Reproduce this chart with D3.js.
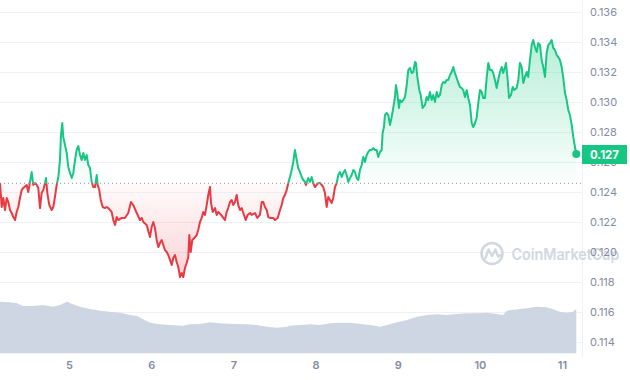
<!DOCTYPE html>
<html>
<head>
<meta charset="utf-8">
<script src="https://cdn.jsdelivr.net/npm/d3@7"></script>
<style>
html,body{margin:0;padding:0;background:#fff;}
svg{display:block;font-family:Inter,"Noto Sans",sans-serif;}
</style>
</head>
<body>
<svg id="chart" width="630" height="380"></svg>
<script>
// ---- data ----
const priceDays = [4.160,4.181,4.200,4.221,4.242,4.261,4.282,4.302,4.322,4.343,4.363,4.383,4.403,4.424,4.444,4.485,4.504,4.525,4.546,4.565,4.586,4.607,4.626,4.647,4.667,4.687,4.708,4.720,4.736,4.760,4.789,4.809,4.829,4.850,4.870,4.890,4.902,4.918,4.930,4.951,4.972,4.991,5.012,5.033,5.052,5.073,5.093,5.113,5.134,5.154,5.174,5.194,5.215,5.235,5.255,5.276,5.295,5.316,5.337,5.349,5.368,5.386,5.410,5.438,5.459,5.478,5.519,5.539,5.560,5.580,5.600,5.641,5.681,5.721,5.754,5.782,5.824,5.864,5.885,5.904,5.945,5.965,
5.986,6.006,6.026,6.046,6.067,6.087,6.107,6.128,6.147,6.168,6.189,6.208,6.229,6.250,6.269,6.290,6.310,6.330,6.351,6.371,6.391,6.411,6.432,6.452,6.464,6.481,6.500,6.525,6.554,6.573,6.594,6.615,6.634,6.655,6.676,6.695,6.716,6.728,6.749,6.777,6.797,6.817,6.850,6.878,6.898,6.919,6.938,6.959,6.980,6.999,7.020,7.041,7.060,7.081,7.102,7.121,7.150,7.174,7.203,7.223,7.263,7.291,7.324,7.345,7.364,7.385,7.406,7.425,7.446,7.486,7.507,7.540,7.568,7.588,7.608,7.628,7.649,7.669,7.689,7.710,7.729,7.750,7.771,7.790,7.811,7.832,7.851,7.872,7.884,7.912,7.933,7.953,7.973,7.993,
8.014,8.034,8.054,8.075,8.094,8.115,8.136,8.155,8.176,8.197,8.216,8.237,8.258,8.277,8.298,8.319,8.338,8.359,8.379,8.399,8.420,8.440,8.460,8.480,8.501,8.521,8.541,8.562,8.581,8.602,8.623,8.642,8.663,8.684,8.703,8.724,8.744,8.764,8.785,8.805,8.817,8.833,8.845,8.866,8.886,8.906,8.927,8.946,8.967,8.979,8.995,9.016,9.028,9.049,9.068,9.089,9.110,9.129,9.150,9.170,9.190,9.211,9.223,9.239,9.263,9.280,9.304,9.332,9.353,9.372,9.393,9.414,9.433,
9.454,9.475,9.494,9.515,9.536,9.555,9.576,9.596,9.616,9.637,9.657,9.677,9.697,9.718,9.738,9.758,9.779,9.798,9.819,9.840,9.859,9.880,9.901,9.920,9.941,9.961,9.981,10.002,10.022,10.042,10.063,10.083,10.103,10.123,10.144,10.163,10.184,10.205,10.224,10.245,10.266,10.285,10.306,10.318,10.339,10.355,10.379,10.400,10.419,10.448,10.468,10.488,10.509,10.529,10.549,10.570,10.589,10.610,10.631,10.650,10.671,10.692,10.711,10.732,10.752,10.772,10.793,10.813,10.833,10.854,10.874,10.894,10.914,10.935,10.955,10.975,10.996,11.016,11.036,11.057,11.076,11.097,11.118,11.137,11.158,11.174];
const prices = [0.12460,0.12300,0.12360,0.12280,0.12360,0.12333,0.12280,0.12260,0.12233,0.12213,0.12267,0.12300,0.12360,0.12413,0.12427,0.12447,0.12400,0.12467,0.12533,0.12447,0.12460,0.12447,0.12427,0.12293,0.12393,0.12413,0.12460,0.12493,0.12393,0.12313,0.12280,0.12300,0.12367,0.12447,0.12500,0.12613,0.12780,0.12860,0.12767,0.12713,0.12660,0.12567,0.12527,0.12493,0.12527,0.12613,0.12680,0.12707,0.12647,0.12613,0.12660,0.12613,0.12647,0.12580,0.12560,0.12467,0.12433,0.12433,0.12513,0.12447,0.12413,0.12347,0.12300,0.12293,0.12300,0.12293,0.12267,0.12213,0.12180,0.12233,0.12213,0.12227,0.12227,0.12260,0.12333,0.12313,0.12260,0.12213,0.12227,0.12200,0.12180,0.12140,
0.12100,0.12167,0.12200,0.12160,0.12080,0.12033,0.12060,0.12080,0.12047,0.12013,0.12000,0.11980,0.11947,0.11913,0.11960,0.11980,0.11933,0.11900,0.11833,0.11860,0.11833,0.11893,0.11927,0.11967,0.12113,0.12000,0.12080,0.12093,0.12113,0.12147,0.12200,0.12227,0.12267,0.12247,0.12313,0.12380,0.12433,0.12327,0.12267,0.12293,0.12247,0.12267,0.12247,0.12227,0.12213,0.12267,0.12293,0.12333,0.12347,0.12313,0.12333,0.12380,0.12313,0.12280,0.12293,0.12260,0.12213,0.12247,0.12260,0.12247,0.12260,0.12227,0.12247,0.12333,0.12333,0.12300,0.12280,0.12233,0.12227,0.12227,0.12213,0.12227,0.12280,0.12313,0.12360,0.12380,0.12413,0.12460,0.12500,0.12547,0.12600,0.12680,0.12613,0.12560,0.12533,0.12500,0.12480,0.12467,0.12447,0.12493,0.12467,0.12500,0.12460,0.12433,
0.12447,0.12460,0.12460,0.12447,0.12433,0.12393,0.12300,0.12367,0.12347,0.12327,0.12360,0.12433,0.12460,0.12513,0.12533,0.12500,0.12527,0.12547,0.12513,0.12467,0.12493,0.12513,0.12547,0.12533,0.12493,0.12480,0.12547,0.12580,0.12633,0.12600,0.12647,0.12667,0.12680,0.12680,0.12693,0.12680,0.12680,0.12633,0.12667,0.12680,0.12793,0.12833,0.12913,0.12927,0.12913,0.12847,0.12900,0.12960,0.13033,0.13113,0.13060,0.12960,0.13013,0.13000,0.13013,0.13033,0.13113,0.13213,0.13227,0.13193,0.13200,0.13267,0.13260,0.13167,0.13080,0.13047,0.12960,0.12980,0.13033,0.13013,0.13067,0.13013,0.13047,
0.13000,0.13067,0.13033,0.13047,0.13113,0.13133,0.13127,0.13147,0.13147,0.13180,0.13200,0.13233,0.13193,0.13160,0.13127,0.13100,0.13093,0.13080,0.13033,0.13080,0.13027,0.12980,0.12860,0.12833,0.12860,0.12893,0.12993,0.13080,0.13067,0.13027,0.13027,0.13160,0.13260,0.13213,0.13213,0.13193,0.13147,0.13093,0.13147,0.13200,0.13233,0.13193,0.13233,0.13260,0.13147,0.13027,0.13047,0.13100,0.13080,0.13093,0.13147,0.13260,0.13233,0.13127,0.13167,0.13200,0.13167,0.13280,0.13380,0.13413,0.13367,0.13333,0.13393,0.13380,0.13280,0.13233,0.13167,0.13327,0.13380,0.13393,0.13413,0.13360,0.13347,0.13313,0.13300,0.13280,0.13233,0.13160,0.13060,0.13013,0.12947,0.12913,0.12847,0.12767,0.12700,0.12653];

const volumeDays = [4.160,4.282,4.367,4.440,4.562,4.683,4.805,4.890,4.975,5.048,5.134,5.255,5.377,5.499,5.620,5.742,5.827,5.900,5.986,6.107,6.229,6.387,6.472,6.594,6.716,6.837,6.996,7.166,7.288,7.409,7.531,7.653,7.689,7.811,7.933,8.054,8.176,8.298,8.420,8.541,8.663,8.785,8.870,8.991,9.113,9.235,9.357,9.478,9.600,9.722,9.843,9.965,10.087,10.208,10.282,10.330,10.452,10.574,10.695,10.817,10.890,10.975,11.060,11.133,11.174];
const volumes = [25.8,25.5,25.0,23.65,23.65,24.15,23.3,24.15,25.8,24.5,23.3,22.15,21.3,20.8,20.3,19.15,18.65,17.0,15.3,14.5,14.15,13.8,14.5,14.65,15.5,15.0,14.65,14.5,14.15,13.3,12.8,13.3,13.8,14.15,14.5,14.15,15.0,15.3,15.3,14.65,14.15,13.3,14.15,15.5,16.65,18.3,19.15,19.5,19.15,19.65,20.0,20.0,20.3,19.65,19.15,21.3,22.0,22.5,23.3,23.0,22.0,20.8,20.3,20.8,22.15];

const yTicks = [0.114,0.116,0.118,0.120,0.122,0.124,0.126,0.128,0.130,0.132,0.134,0.136];
const xTicks = [5,6,7,8,9,10,11];
const baselinePrice = 0.12458;
const lastPriceLabel = "0.127";
const watermarkText = "CoinMarketCap";

// ---- drawing ----
const GREEN = "#16c784", RED = "#ea3943";
const svg = d3.select("#chart");
const x = d3.scaleLinear().domain([priceDays[0], priceDays[priceDays.length-1]]).range([0, 576.3]);
const y = d3.scaleLinear().domain([0.114, 0.136]).range([342, 12]);
const yv = d3.scaleLinear().domain([0, 40]).range([353.3, 273.3]);

const data = priceDays.map((d,i)=>({d, p: prices[i]}));
const vdata = volumeDays.map((d,i)=>({d, v: volumes[i]}));
const yBase = y(baselinePrice);

const defs = svg.append("defs");
const gG = defs.append("linearGradient").attr("id","gGreen").attr("gradientUnits","userSpaceOnUse")
  .attr("x1",0).attr("x2",0).attr("y1",y(d3.max(prices))).attr("y2",yBase);
gG.append("stop").attr("offset",0).attr("stop-color",GREEN).attr("stop-opacity",0.30);
gG.append("stop").attr("offset",1).attr("stop-color",GREEN).attr("stop-opacity",0.02);
const gR = defs.append("linearGradient").attr("id","gRed").attr("gradientUnits","userSpaceOnUse")
  .attr("x1",0).attr("x2",0).attr("y1",yBase).attr("y2",y(d3.min(prices)));
gR.append("stop").attr("offset",0).attr("stop-color",RED).attr("stop-opacity",0.02);
gR.append("stop").attr("offset",1).attr("stop-color",RED).attr("stop-opacity",0.22);
defs.append("clipPath").attr("id","clipAbove").append("rect").attr("x",-5).attr("y",0).attr("width",600).attr("height",yBase);
defs.append("clipPath").attr("id","clipBelow").append("rect").attr("x",-5).attr("y",yBase).attr("width",600).attr("height",400-yBase);

// gridlines
svg.append("g").selectAll("line").data(yTicks).join("line")
  .attr("x1",0).attr("x2",582.5).attr("y1",d=>Math.round(y(d))+0.5).attr("y2",d=>Math.round(y(d))+0.5)
  .attr("stroke","#eff2f5").attr("stroke-width",1);
// right axis line
svg.append("line").attr("x1",582.5).attr("x2",582.5).attr("y1",0).attr("y2",357).attr("stroke","#eff2f5");

// watermark
const wm = svg.append("g").attr("opacity",1);
wm.append("circle").attr("cx",492).attr("cy",253.5).attr("r",10.5).attr("fill","none").attr("stroke","#d3d8e0").attr("stroke-width",2.6);
wm.append("path").attr("d","M485.5,258 L488.5,249.5 L492,256 L495.5,249.5 L498,256.5 L500.5,255")
  .attr("fill","none").attr("stroke","#d3d8e0").attr("stroke-width",2.4).attr("stroke-linejoin","round").attr("stroke-linecap","round");
wm.append("text").attr("x",511.5).attr("y",259.5).attr("font-size",16).attr("font-weight",600)
  .attr("fill","#d3d8e0").attr("textLength",108).attr("lengthAdjust","spacingAndGlyphs").text(watermarkText);

// volume
svg.append("path").datum(vdata)
  .attr("d", d3.area().x(d=>x(d.d)).y0(yv(0)).y1(d=>yv(d.v)).curve(d3.curveLinear))
  .attr("fill","#cfd6e3");

// areas
const area = d3.area().x(d=>x(d.d)).y0(yBase).y1(d=>y(d.p));
svg.append("path").datum(data).attr("d",area).attr("fill","url(#gGreen)").attr("clip-path","url(#clipAbove)");
svg.append("path").datum(data).attr("d",area).attr("fill","url(#gRed)").attr("clip-path","url(#clipBelow)");

// baseline dotted
svg.append("line").attr("x1",0).attr("x2",582).attr("y1",yBase).attr("y2",yBase)
  .attr("stroke","#8e95a3").attr("stroke-width",1).attr("stroke-dasharray","1,3");

// lines
const line = d3.line().x(d=>x(d.d)).y(d=>y(d.p));
svg.append("path").datum(data).attr("d",line).attr("fill","none").attr("stroke",GREEN).attr("stroke-width",2)
  .attr("stroke-linejoin","round").attr("clip-path","url(#clipAbove)");
svg.append("path").datum(data).attr("d",line).attr("fill","none").attr("stroke",RED).attr("stroke-width",2)
  .attr("stroke-linejoin","round").attr("clip-path","url(#clipBelow)");

// y axis
const yAxis = d3.axisRight(y).tickValues(yTicks).tickFormat(d3.format(".3f")).tickSize(0).tickPadding(0);
const gy = svg.append("g").attr("transform","translate(590,0)").call(yAxis);
gy.select(".domain").remove();
gy.selectAll("text").attr("font-family","Inter,sans-serif").attr("font-size",11).attr("fill","#858ca2");

// x axis
const xAxis = d3.axisBottom(x).tickValues(xTicks).tickFormat(d3.format("d")).tickSize(0).tickPadding(0);
const gx = svg.append("g").attr("transform","translate(0,361)").call(xAxis);
gx.select(".domain").remove();
gx.selectAll("text").attr("font-family","Inter,sans-serif").attr("font-size",11).attr("font-weight",600).attr("fill","#858ca2");

// last point + label
const last = data[data.length-1];
svg.append("circle").attr("cx",x(last.d)).attr("cy",y(last.p)).attr("r",4).attr("fill",GREEN);
svg.append("rect").attr("x",582).attr("y",145).attr("width",45).attr("height",19).attr("fill",GREEN);
svg.append("text").attr("x",604.5).attr("y",158.5).attr("text-anchor","middle").attr("font-size",11.5)
  .attr("font-weight",700).attr("fill","#fff").text(lastPriceLabel);
</script>
</body>
</html>
